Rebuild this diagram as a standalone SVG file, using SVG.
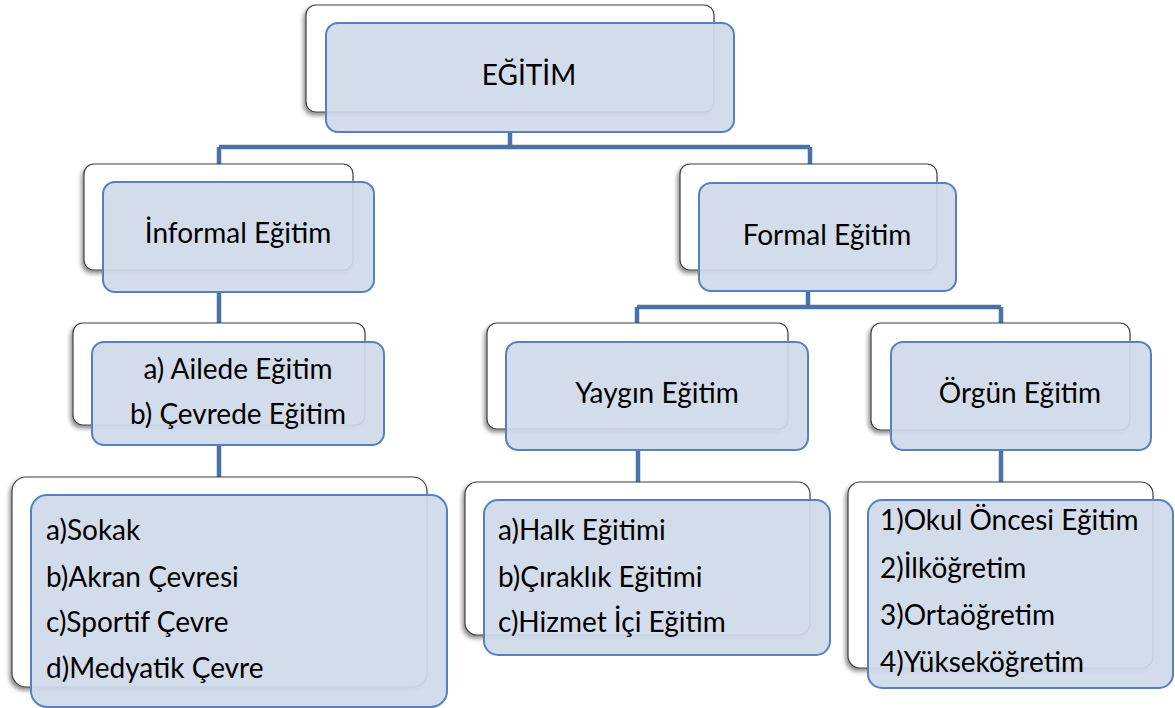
<svg xmlns="http://www.w3.org/2000/svg" width="1175" height="708" viewBox="0 0 1175 708">
<defs>
<filter id="sh" x="-10%" y="-10%" width="120%" height="130%">
<feDropShadow dx="-2" dy="3" stdDeviation="2" flood-color="#000" flood-opacity="0.45"/>
</filter>
<style>
.back{fill:#ffffff;stroke:#404040;stroke-width:1.2;filter:url(#sh)}
.front{fill:#d0d9e9;fill-opacity:0.93;stroke:#5582bf;stroke-width:2}
.t{font-family:Lato,"Liberation Sans",sans-serif;font-size:28px;fill:#000}
.c{text-anchor:middle}
.conn{fill:none;stroke:#4a72a8;stroke-width:4.5}
</style>
</defs>
<rect width="1175" height="708" fill="#ffffff"/>
<g id="connectors">
<path class="conn" d="M510,132 V147 M219,147 H810 M219,147 V164 M810,147 V164"/>
<path class="conn" d="M808,291 V307 M637,307 H1001 M637,307 V323 M1001,307 V323"/>
<path class="conn" d="M219,292 V323"/>
<path class="conn" d="M219,445 V477"/>
<path class="conn" d="M638,450 V482"/>
<path class="conn" d="M1001,450 V482"/>
</g>
<g id="egitim">
<rect class="back" x="306" y="5" width="408" height="107" rx="10"/>
<rect class="front" x="326" y="23" width="408" height="109" rx="12"/>
<text class="t c" x="529" y="85">EĞİTİM</text>
</g>
<g id="informal">
<rect class="back" x="84" y="164" width="269" height="106" rx="10"/>
<rect class="front" x="103" y="182" width="271" height="110" rx="12"/>
<text class="t c" x="238" y="243">İnformal Eğitim</text>
</g>
<g id="formal">
<rect class="back" x="680" y="164" width="257" height="106" rx="10"/>
<rect class="front" x="699" y="183" width="257" height="108" rx="12"/>
<text class="t c" x="827" y="245">Formal Eğitim</text>
</g>
<g id="ailede">
<rect class="back" x="73" y="323" width="292" height="102" rx="10"/>
<rect class="front" x="92" y="342" width="292" height="103" rx="12"/>
<text class="t c" x="238" y="379">a) Ailede Eğitim</text>
<text class="t c" x="238" y="424">b) Çevrede Eğitim</text>
</g>
<g id="yaygin">
<rect class="back" x="487" y="323" width="301" height="106" rx="10"/>
<rect class="front" x="506" y="342" width="302" height="108" rx="12"/>
<text class="t c" x="657" y="403">Yaygın Eğitim</text>
</g>
<g id="orgun">
<rect class="back" x="871" y="323" width="259" height="107" rx="10"/>
<rect class="front" x="891" y="342" width="260" height="108" rx="12"/>
<text class="t c" x="1020" y="403">Örgün Eğitim</text>
</g>
<g id="informal-list">
<rect class="back" x="12" y="477" width="415" height="210" rx="14"/>
<rect class="front" x="31" y="495" width="416" height="212" rx="16"/>
<text class="t" x="46" y="540">a)Sokak</text>
<text class="t" x="46" y="587">b)Akran Çevresi</text>
<text class="t" x="46" y="632">c)Sportif Çevre</text>
<text class="t" x="46" y="678">d)Medyatik Çevre</text>
</g>
<g id="yaygin-list">
<rect class="back" x="465" y="482" width="345" height="153" rx="12"/>
<rect class="front" x="484" y="500" width="346" height="155" rx="14"/>
<text class="t" x="498" y="540">a)Halk Eğitimi</text>
<text class="t" x="498" y="587">b)Çıraklık Eğitimi</text>
<text class="t" x="498" y="632">c)Hizmet İçi Eğitim</text>
</g>
<g id="orgun-list">
<rect class="back" x="848" y="482" width="305" height="186" rx="12"/>
<rect class="front" x="868" y="500" width="305" height="188" rx="14"/>
<text class="t" x="880" y="530">1)Okul Öncesi Eğitim</text>
<text class="t" x="880" y="578">2)İlköğretim</text>
<text class="t" x="880" y="625">3)Ortaöğretim</text>
<text class="t" x="880" y="672">4)Yükseköğretim</text>
</g>
</svg>
